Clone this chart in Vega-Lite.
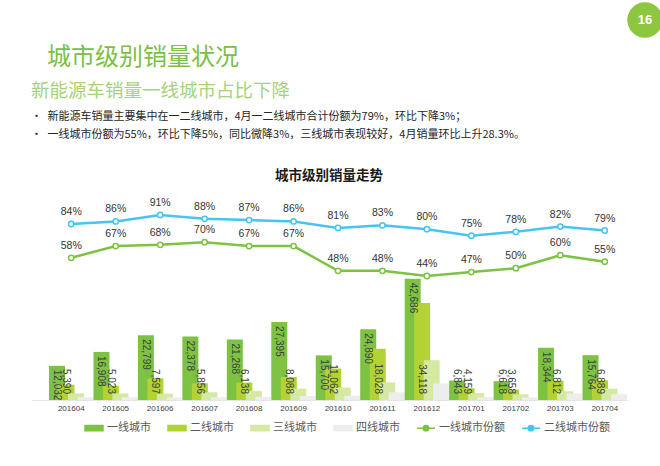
{
  "$schema": "https://vega.github.io/schema/vega-lite/v6.json",
  "background": "white",
  "padding": {"left": 31, "top": 0, "right": 0, "bottom": 4},
  "config": {
    "font": "Noto Sans CJK SC",
    "view": {"stroke": null},
    "concat": {"spacing": 0},
    "legend": {"labelFont": "Noto Sans CJK SC", "layout": {"bottom": {"anchor": "middle"}}}
  },
  "datasets": {
    "bars": [
      {"month": "201604", "tier": "一线城市", "value": 12032},
      {"month": "201604", "tier": "二线城市", "value": 5390},
      {"month": "201604", "tier": "三线城市", "value": 2300},
      {"month": "201604", "tier": "四线城市", "value": 1000},
      {"month": "201605", "tier": "一线城市", "value": 16908},
      {"month": "201605", "tier": "二线城市", "value": 5023},
      {"month": "201605", "tier": "三线城市", "value": 2300},
      {"month": "201605", "tier": "四线城市", "value": 1000},
      {"month": "201606", "tier": "一线城市", "value": 22799},
      {"month": "201606", "tier": "二线城市", "value": 7597},
      {"month": "201606", "tier": "三线城市", "value": 2200},
      {"month": "201606", "tier": "四线城市", "value": 900},
      {"month": "201607", "tier": "一线城市", "value": 22378},
      {"month": "201607", "tier": "二线城市", "value": 5856},
      {"month": "201607", "tier": "三线城市", "value": 2700},
      {"month": "201607", "tier": "四线城市", "value": 1000},
      {"month": "201608", "tier": "一线城市", "value": 21268},
      {"month": "201608", "tier": "二线城市", "value": 6138},
      {"month": "201608", "tier": "三线城市", "value": 3200},
      {"month": "201608", "tier": "四线城市", "value": 1100},
      {"month": "201609", "tier": "一线城市", "value": 27395},
      {"month": "201609", "tier": "二线城市", "value": 8088},
      {"month": "201609", "tier": "三线城市", "value": 4000},
      {"month": "201609", "tier": "四线城市", "value": 1400},
      {"month": "201610", "tier": "一线城市", "value": 15700},
      {"month": "201610", "tier": "二线城市", "value": 11062},
      {"month": "201610", "tier": "三线城市", "value": 4400},
      {"month": "201610", "tier": "四线城市", "value": 1500},
      {"month": "201611", "tier": "一线城市", "value": 24890},
      {"month": "201611", "tier": "二线城市", "value": 18028},
      {"month": "201611", "tier": "三线城市", "value": 6200},
      {"month": "201611", "tier": "四线城市", "value": 2700},
      {"month": "201612", "tier": "一线城市", "value": 42686},
      {"month": "201612", "tier": "二线城市", "value": 34118},
      {"month": "201612", "tier": "三线城市", "value": 14000},
      {"month": "201612", "tier": "四线城市", "value": 5800},
      {"month": "201701", "tier": "一线城市", "value": 6843},
      {"month": "201701", "tier": "二线城市", "value": 4159},
      {"month": "201701", "tier": "三线城市", "value": 2400},
      {"month": "201701", "tier": "四线城市", "value": 1100},
      {"month": "201702", "tier": "一线城市", "value": 6618},
      {"month": "201702", "tier": "二线城市", "value": 3658},
      {"month": "201702", "tier": "三线城市", "value": 2000},
      {"month": "201702", "tier": "四线城市", "value": 900},
      {"month": "201703", "tier": "一线城市", "value": 18344},
      {"month": "201703", "tier": "二线城市", "value": 6812},
      {"month": "201703", "tier": "三线城市", "value": 3100},
      {"month": "201703", "tier": "四线城市", "value": 2300},
      {"month": "201704", "tier": "一线城市", "value": 15764},
      {"month": "201704", "tier": "二线城市", "value": 6889},
      {"month": "201704", "tier": "三线城市", "value": 4000},
      {"month": "201704", "tier": "四线城市", "value": 2000}
    ],
    "shares": [
      {"month": "201604", "series": "一线城市份额", "share": 0.58},
      {"month": "201605", "series": "一线城市份额", "share": 0.67},
      {"month": "201606", "series": "一线城市份额", "share": 0.68},
      {"month": "201607", "series": "一线城市份额", "share": 0.70},
      {"month": "201608", "series": "一线城市份额", "share": 0.67},
      {"month": "201609", "series": "一线城市份额", "share": 0.67},
      {"month": "201610", "series": "一线城市份额", "share": 0.48},
      {"month": "201611", "series": "一线城市份额", "share": 0.48},
      {"month": "201612", "series": "一线城市份额", "share": 0.44},
      {"month": "201701", "series": "一线城市份额", "share": 0.47},
      {"month": "201702", "series": "一线城市份额", "share": 0.50},
      {"month": "201703", "series": "一线城市份额", "share": 0.60},
      {"month": "201704", "series": "一线城市份额", "share": 0.55},
      {"month": "201604", "series": "二线城市份额", "share": 0.84},
      {"month": "201605", "series": "二线城市份额", "share": 0.86},
      {"month": "201606", "series": "二线城市份额", "share": 0.91},
      {"month": "201607", "series": "二线城市份额", "share": 0.88},
      {"month": "201608", "series": "二线城市份额", "share": 0.87},
      {"month": "201609", "series": "二线城市份额", "share": 0.86},
      {"month": "201610", "series": "二线城市份额", "share": 0.81},
      {"month": "201611", "series": "二线城市份额", "share": 0.83},
      {"month": "201612", "series": "二线城市份额", "share": 0.80},
      {"month": "201701", "series": "二线城市份额", "share": 0.75},
      {"month": "201702", "series": "二线城市份额", "share": 0.78},
      {"month": "201703", "series": "二线城市份额", "share": 0.82},
      {"month": "201704", "series": "二线城市份额", "share": 0.79}
    ]
  },
  "spacing": 6,
  "vconcat": [
    {
      "hconcat": [
        {"width": 596, "height": 40, "data": {"values": []}, "mark": "text", "encoding": {}},
        {
          "width": 26,
          "height": 40,
          "data": {"values": [{"page": "16"}]},
          "layer": [
            {"mark": {"type": "circle", "size": 1257, "color": "#8dc63f", "opacity": 1}, "encoding": {}},
            {"mark": {"type": "text", "color": "white", "fontSize": 13, "fontWeight": "bold", "font": "Liberation Sans"}, "encoding": {"text": {"field": "page"}}}
          ]
        }
      ]
    },
    {
      "title": {
        "text": "城市级别销量状况",
        "anchor": "start",
        "dx": 16,
        "font": "Noto Sans CJK SC",
        "fontSize": 24,
        "fontWeight": "normal",
        "color": "#7cbf45",
        "offset": 12
      },
      "vconcat": [
        {
          "title": {
            "text": "新能源车销量一线城市占比下降",
            "anchor": "start",
            "font": "Noto Sans CJK SC",
            "fontSize": 18.5,
            "fontWeight": "normal",
            "color": "#a6d27c",
            "offset": 10
          },
          "vconcat": [
            {
              "title": {
                "text": [
                  "•\u2002新能源车销量主要集中在一二线城市，4月一二线城市合计份额为79%，环比下降3%；",
                  "•\u2002一线城市份额为55%，环比下降5%，同比微降3%，三线城市表现较好，4月销量环比上升28.3%。"
                ],
                "anchor": "start",
                "font": "Noto Sans CJK SC",
                "fontSize": 11,
                "fontWeight": "normal",
                "color": "#262626",
                "lineHeight": 18.5,
                "offset": 29
              },
              "vconcat": [
                {
                  "width": 596,
                  "height": 199,
                  "title": {
                    "text": "城市级别销量走势",
                    "anchor": "middle",
                    "font": "Noto Sans CJK SC",
                    "fontSize": 13.5,
                    "fontWeight": "bold",
                    "color": "#1a1a1a",
                    "offset": 15
                  },
                  "layer": [
                    {
                      "data": {"name": "bars"},
                      "encoding": {
                        "x": {
                          "field": "month", "type": "nominal",
                          "scale": {"domain": ["201604","201605","201606","201607","201608","201609","201610","201611","201612","201701","201702","201703","201704"], "paddingInner": 0, "paddingOuter": 0.2025, "align": 1},
                          "axis": {"title": null, "labelAngle": 0, "ticks": false, "labelFont": "Liberation Sans", "labelFontSize": 8, "labelColor": "#404040", "labelPadding": 4, "domainColor": "#e3e3e3", "grid": false}
                        },
                        "xOffset": {
                          "field": "tier", "type": "nominal",
                          "scale": {"domain": ["一线城市","二线城市","三线城市","四线城市"], "paddingInner": 0, "paddingOuter": 0.34}
                        },
                        "y": {"field": "value", "type": "quantitative", "stack": null, "scale": {"domain": [0, 70000]}, "axis": null}
                      },
                      "layer": [
                        {
                          "mark": {"type": "bar", "width": 16},
                          "encoding": {
                            "color": {
                              "field": "tier", "type": "nominal",
                              "scale": {
                                "domain": ["一线城市","二线城市","三线城市","四线城市","一线城市份额","二线城市份额"],
                                "range": ["#7dc242","#b3d334","#d5e9a3","#ededed","#7dc242","#45c5ef"]
                              },
                              "legend": {
                                "title": null, "orient": "bottom", "direction": "horizontal", "offset": 6,
                                "symbolSize": 324, "labelFontSize": 11, "labelColor": "#595959", "labelOffset": 3, "columnPadding": 14,
                                "encode": {"symbols": {"update": {
                                  "shape": {"signal": "indexof(datum.value, '份额') >= 0 ? 'M-1,0H-0.3M0.3,0H1M0.3,0A0.3,0.3,0,1,1,-0.3,0A0.3,0.3,0,1,1,0.3,0' : 'M-1,-0.3H1V0.3H-1Z'"},
                                  "fill": {"signal": "datum.value === '一线城市' ? '#7dc242' : datum.value === '二线城市' ? '#b3d334' : datum.value === '三线城市' ? '#d5e9a3' : datum.value === '四线城市' ? '#ededed' : '#ffffff'"},
                                  "stroke": {"signal": "datum.value === '一线城市份额' ? '#7dc242' : datum.value === '二线城市份额' ? '#45c5ef' : 'transparent'"},
                                  "strokeWidth": {"value": 1.5},
                                  "opacity": {"value": 1}
                                }}}
                              }
                            }
                          }
                        },
                        {
                          "transform": [{"filter": "datum.tier === '一线城市' && datum.value >= 10000"}],
                          "mark": {"type": "text", "angle": 90, "align": "left", "baseline": "middle", "dx": 4, "font": "Liberation Sans", "fontSize": 10, "color": "#404040"},
                          "encoding": {"text": {"field": "value", "type": "quantitative", "format": ","}}
                        },
                        {
                          "transform": [{"filter": "(datum.tier === '一线城市' && datum.value < 10000) || datum.tier === '二线城市'"}],
                          "mark": {"type": "text", "angle": 90, "align": "right", "baseline": "middle", "dx": -6, "font": "Liberation Sans", "fontSize": 10, "color": "#404040"},
                          "encoding": {
                            "y": {"datum": 0, "type": "quantitative"},
                            "text": {"field": "value", "type": "quantitative", "format": ","}
                          }
                        }
                      ]
                    },
                    {
                      "data": {"name": "shares"},
                      "encoding": {
                        "x": {"field": "month", "type": "nominal"},
                        "y": {"field": "share", "type": "quantitative", "scale": {"domain": [-0.514, 1.017]}, "axis": null}
                      },
                      "layer": [
                        {
                          "mark": {"type": "line", "strokeWidth": 2.5, "point": {"filled": false, "fill": "white", "size": 28, "strokeWidth": 1.5}},
                          "encoding": {
                            "color": {
                              "field": "series", "type": "nominal",
                              "scale": {
                                "domain": ["一线城市","二线城市","三线城市","四线城市","一线城市份额","二线城市份额"],
                                "range": ["#7dc242","#b3d334","#d5e9a3","#ededed","#7dc242","#45c5ef"]
                              },
                              "legend": {
                                "title": null, "orient": "bottom", "direction": "horizontal", "offset": 6,
                                "symbolSize": 324, "labelFontSize": 11, "labelColor": "#595959", "labelOffset": 3, "columnPadding": 14,
                                "encode": {"symbols": {"update": {
                                  "shape": {"signal": "indexof(datum.value, '份额') >= 0 ? 'M-1,0H-0.3M0.3,0H1M0.3,0A0.3,0.3,0,1,1,-0.3,0A0.3,0.3,0,1,1,0.3,0' : 'M-1,-0.3H1V0.3H-1Z'"},
                                  "fill": {"signal": "datum.value === '一线城市' ? '#7dc242' : datum.value === '二线城市' ? '#b3d334' : datum.value === '三线城市' ? '#d5e9a3' : datum.value === '四线城市' ? '#ededed' : '#ffffff'"},
                                  "stroke": {"signal": "datum.value === '一线城市份额' ? '#7dc242' : datum.value === '二线城市份额' ? '#45c5ef' : 'transparent'"},
                                  "strokeWidth": {"value": 1.5},
                                  "opacity": {"value": 1}
                                }}}
                              }
                            }
                          }
                        },
                        {
                          "mark": {"type": "text", "dy": -12, "font": "Liberation Sans", "fontSize": 10.5, "color": "#333333"},
                          "encoding": {"text": {"field": "share", "type": "quantitative", "format": ".0%"}}
                        }
                      ]
                    }
                  ],
                  "resolve": {"scale": {"y": "independent"}}
                }
              ]
            }
          ]
        }
      ]
    }
  ]
}
